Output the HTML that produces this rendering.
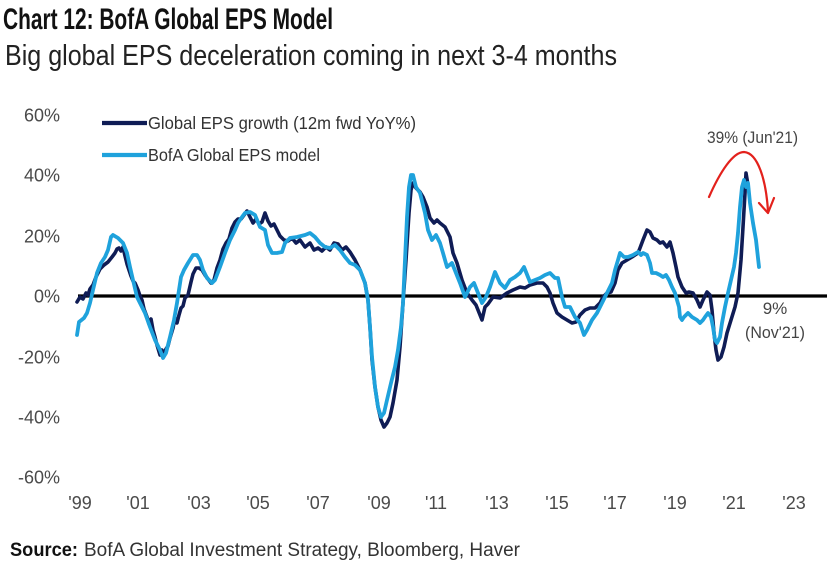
<!DOCTYPE html>
<html>
<head>
<meta charset="utf-8">
<style>
  html,body{margin:0;padding:0;background:#fff;}
  svg{display:block;}
  text{font-family:"Liberation Sans",sans-serif;}
</style>
</head>
<body>
<svg width="827" height="563" viewBox="0 0 827 563" xmlns="http://www.w3.org/2000/svg">
  <rect width="827" height="563" fill="#fff"/>
  <!-- Titles -->
  <text x="3" y="29" font-size="30" font-weight="bold" fill="#111" textLength="330" lengthAdjust="spacingAndGlyphs">Chart 12: BofA Global EPS Model</text>
  <text x="5" y="65" font-size="29" fill="#222" textLength="612" lengthAdjust="spacingAndGlyphs">Big global EPS deceleration coming in next 3-4 months</text>

  <!-- Y axis labels -->
  <g font-size="18" fill="#4a4a4a" text-anchor="end">
    <text x="60" y="121.5">60%</text>
    <text x="60" y="181.5">40%</text>
    <text x="60" y="242.5">20%</text>
    <text x="60" y="302.5">0%</text>
    <text x="60" y="363.5">-20%</text>
    <text x="60" y="423.5">-40%</text>
    <text x="60" y="483.5">-60%</text>
  </g>

  <!-- X axis labels -->
  <g font-size="18" fill="#4a4a4a" text-anchor="middle">
    <text x="80" y="509">'99</text>
    <text x="138" y="509">'01</text>
    <text x="199" y="509">'03</text>
    <text x="258" y="509">'05</text>
    <text x="318" y="509">'07</text>
    <text x="379" y="509">'09</text>
    <text x="436" y="509">'11</text>
    <text x="497" y="509">'13</text>
    <text x="557" y="509">'15</text>
    <text x="615" y="509">'17</text>
    <text x="675" y="509">'19</text>
    <text x="734" y="509">'21</text>
    <text x="794" y="509">'23</text>
  </g>

  <!-- Zero line -->
  <line x1="78" y1="296" x2="827" y2="296" stroke="#000" stroke-width="3.2"/>

  <!-- Legend -->
  <line x1="102" y1="123" x2="147" y2="123" stroke="#0f1c55" stroke-width="4.2"/>
  <text x="148" y="129" font-size="17.5" fill="#333" textLength="268" lengthAdjust="spacingAndGlyphs">Global EPS growth (12m fwd YoY%)</text>
  <line x1="102" y1="155" x2="147" y2="155" stroke="#1fa2dc" stroke-width="4.2"/>
  <text x="148" y="161" font-size="17.5" fill="#333" textLength="172" lengthAdjust="spacingAndGlyphs">BofA Global EPS model</text>

  <!-- Dark series -->
  <polyline fill="none" stroke="#0f1c55" stroke-width="3.6" stroke-linejoin="round" stroke-linecap="round"
    points="77,302 80,297 83,299 86,293 88,295 90,289 93,285 96,277 100,269 104,265 108,262 112,257 115,253 117,249 119,248 121,251 123,247 125,256 127,264 129,270 131,276 133,281 135,283 138,290 140,296 142,300 144,309 147,317 149,324 151,319 153,330 155,337 157,345 160,355 162,350 164,354 166,349 168,346 170,338 173,328 175,318 177,323 179,315 181,308 183,306 185,298 188,295 191,282 193,274 196,268 199,268 202,270 205,275 208,279 211,283 214,280 217,268 220,260 223,249 226,243 229,239 232,228 235,222 238,219 241,219 244,215 247,211 250,217 253,223 256,219 259,224 262,222 265,213 268,221 271,226 274,224 277,230 280,236 284,240 288,241 292,238 296,243 300,240 305,247 310,243 314,250 318,248 322,251 326,247 330,250 334,243 338,244 342,250 346,247 350,252 355,260 360,270 365,283 368,300 370,327 372,360 375,387 378,407 381,420 384,427 387,423 390,417 393,403 397,380 400,347 403,303 406,260 409,213 411,190 413,183 416,188 420,192 423,197 427,207 430,218 434,223 437,220 440,223 445,227 450,237 453,253 457,263 462,280 467,293 472,300 476,305 480,315 482,320 485,307 488,304 493,297 500,298 507,293 513,290 520,287 525,288 530,285 537,283 543,283 547,287 550,293 553,303 557,313 562,317 567,320 572,323 576,322 580,315 585,310 590,308 595,308 600,303 603,297 607,293 611,292 615,283 618,270 622,263 627,260 632,257 638,253 640,248 643,240 647,230 650,232 653,238 657,240 660,243 663,242 667,247 670,242 673,253 676,267 678,277 682,287 686,293 689,292 693,293 697,300 700,307 703,300 707,292 710,295 712,310 714,333 716,350 718,360 721,357 724,347 727,333 731,320 735,307 738,293 741,260 743,227 745,193 746,173 748,185"/>

  <!-- Light series -->
  <polyline fill="none" stroke="#1fa2dc" stroke-width="3.8" stroke-linejoin="round" stroke-linecap="round"
    points="77,335 79,322 84,318 87,313 90,303 93,290 97,273 101,263 105,257 108,250 111,237 113,235 118,238 123,243 127,253 130,267 133,280 137,297 140,303 145,313 150,327 155,340 160,350 163,358 166,353 170,337 174,320 177,303 181,277 184,270 188,263 193,255 197,255 200,260 203,270 207,278 212,283 215,280 220,267 225,253 230,240 235,230 238,223 242,217 245,213 250,212 255,215 260,227 265,230 268,245 272,253 277,253 282,252 285,243 290,238 297,237 305,235 310,233 315,237 320,243 325,247 330,248 335,245 340,250 345,257 350,263 355,265 360,270 365,283 368,300 370,327 372,357 375,387 378,407 381,417 384,413 387,400 391,383 395,367 398,350 401,327 403,303 405,260 407,217 409,187 411,175 413,175 416,187 420,193 425,213 428,230 432,240 436,235 440,243 443,253 447,267 452,263 456,273 460,283 465,297 470,287 474,283 478,293 482,303 486,297 490,287 495,272 500,283 505,288 510,280 515,277 520,273 524,267 530,282 535,280 540,278 545,275 550,273 555,278 558,278 562,297 565,307 570,307 575,317 580,323 584,335 587,330 592,320 597,313 602,303 607,293 612,283 615,270 618,260 620,253 624,257 628,257 633,255 638,252 641,255 643,253 647,255 650,263 652,273 656,273 660,275 663,277 666,275 669,280 672,287 675,293 677,300 679,307 680,317 682,320 684,317 688,313 692,317 697,320 700,323 703,320 705,317 708,313 711,317 713,327 715,340 717,343 720,337 722,323 725,307 728,293 731,280 734,267 736,253 738,233 740,207 742,187 744,180 746,187 748,183 750,203 753,223 756,240 759,267"/>

  <!-- Red arrow -->
  <path d="M709,197 C720,172 733,152 744,152 C758,153 766,180 768,211" fill="none" stroke="#e3211c" stroke-width="2.2" stroke-linecap="round"/>
  <polyline points="759,203 768,213 774,198" fill="none" stroke="#e3211c" stroke-width="2.2" stroke-linecap="round" stroke-linejoin="round"/>

  <!-- Annotations -->
  <text x="707" y="143" font-size="17" fill="#444" textLength="91" lengthAdjust="spacingAndGlyphs">39% (Jun'21)</text>
  <text x="775" y="314" font-size="17" fill="#444" text-anchor="middle">9%</text>
  <text x="745" y="338" font-size="17" fill="#444" textLength="60" lengthAdjust="spacingAndGlyphs">(Nov'21)</text>

  <!-- Source -->
  <text x="10" y="556" font-size="19" font-weight="bold" fill="#111" textLength="68" lengthAdjust="spacingAndGlyphs">Source:</text>
  <text x="84" y="556" font-size="19" fill="#333" textLength="436" lengthAdjust="spacingAndGlyphs">BofA Global Investment Strategy, Bloomberg, Haver</text>
</svg>
</body>
</html>
